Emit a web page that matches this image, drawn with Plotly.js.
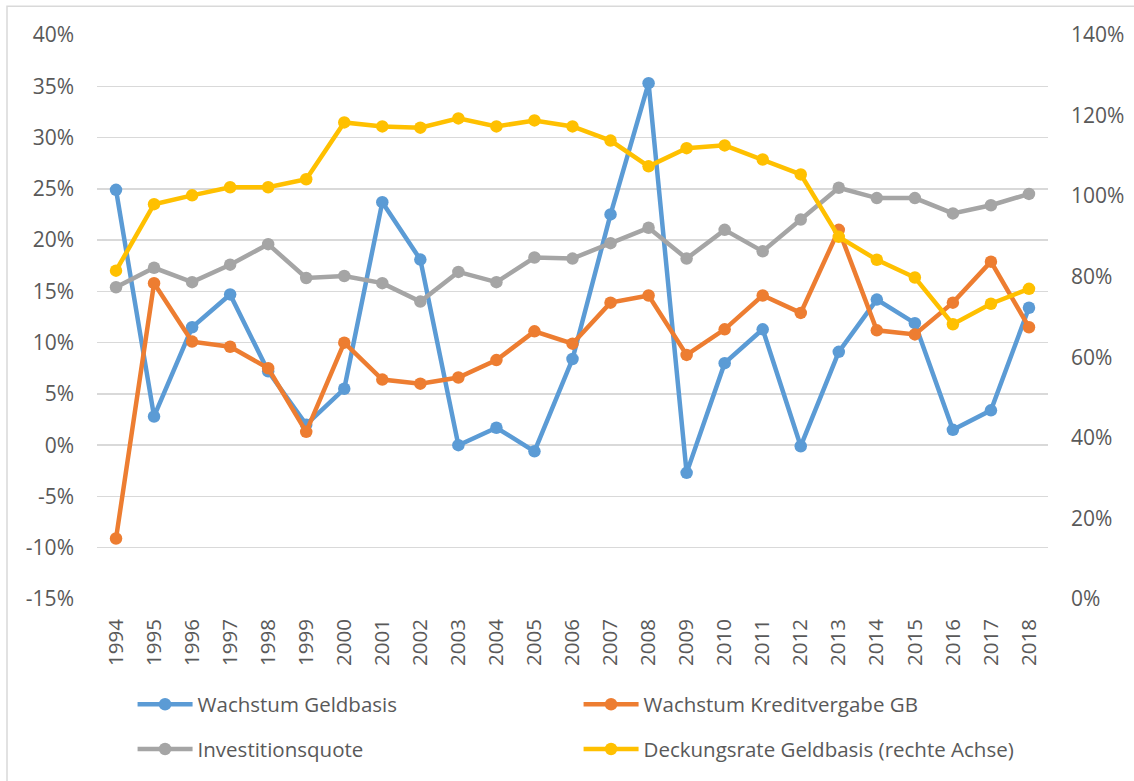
<!DOCTYPE html>
<html><head><meta charset="utf-8">
<script src="https://cdn.plot.ly/plotly-3.0.1.min.js"></script>
<style>html,body{margin:0;padding:0;background:#fff}#chart{width:1134px;height:781px}</style>
</head><body><div id="chart"></div>
<script>
const years = ['1994','1995','1996','1997','1998','1999','2000','2001','2002','2003','2004','2005','2006','2007','2008','2009','2010','2011','2012','2013','2014','2015','2016','2017','2018'];
const wachstumGeldbasis = [24.9,2.8,11.5,14.7,7.2,2.0,5.5,23.7,18.1,0.0,1.7,-0.6,8.4,22.5,35.3,-2.7,8.0,11.3,-0.1,9.1,14.2,11.9,1.5,3.4,13.4];
const wachstumKredit = [-9.1,15.8,10.1,9.6,7.5,1.3,10.0,6.4,6.0,6.6,8.3,11.1,9.9,13.9,14.6,8.8,11.3,14.6,12.9,21.0,11.2,10.8,13.9,17.9,11.5];
const investitionsquote = [15.4,17.3,15.9,17.6,19.6,16.3,16.5,15.8,14.0,16.9,15.9,18.3,18.2,19.7,21.2,18.2,21.0,18.9,22.0,25.1,24.1,24.1,22.6,23.4,24.5];
const deckungsrate = [81.5,98.0,100.2,102.2,102.2,104.2,118.3,117.3,117.0,119.3,117.3,118.8,117.3,113.8,107.4,111.9,112.6,109.1,105.4,89.9,84.2,79.8,68.2,73.3,77.0];
const seriesNames = ['Wachstum Geldbasis','Wachstum Kreditvergabe GB','Investitionsquote','Deckungsrate Geldbasis (rechte Achse)'];
const colors = ['#5B9BD5','#ED7D31','#A5A5A5','#FFC000'];
const leftTickVals = [-15,-10,-5,0,5,10,15,20,25,30,35,40];
const leftTickText = ['-15%','-10%','-5%','0%','5%','10%','15%','20%','25%','30%','35%','40%'];
const rightTickVals = [0,20,40,60,80,100,120,140];
const rightTickText = ['0%','20%','40%','60%','80%','100%','120%','140%'];

const FONT = '"Open Sans", "Liberation Sans", sans-serif';
function tr(y, i, axis, leg){
  return {x: years, y: y, name: seriesNames[i], type:'scatter', mode:'lines+markers',
    yaxis: axis, legend: leg,
    line:{color:colors[i], width:4.5}, marker:{color:colors[i], size:12.5}};
}
const data = [
  tr(wachstumGeldbasis,0,'y','legend'),
  tr(wachstumKredit,1,'y','legend'),
  tr(investitionsquote,2,'y','legend2'),
  tr(deckungsrate,3,'y2','legend2')
];
const legendCommon = {orientation:'h', xanchor:'left', yanchor:'middle', x:0.0374,
  entrywidth:376, entrywidthmode:'pixels', font:{family:FONT, size:20.5, color:'#595959'},
  bgcolor:'rgba(0,0,0,0)', itemwidth:55};
const layout = {
  width:1134, height:781, margin:{l:97, r:86, t:35, b:179},
  paper_bgcolor:'#fff', plot_bgcolor:'#fff',
  font:{family:FONT, color:'#595959', size:20},
  xaxis:{type:'category', range:[-0.5,24.5], tickangle:-90, showgrid:false, zeroline:false, showline:false, ticks:'',
    tickfont:{size:20.5, color:'#595959'}, ticklabelstandoff:15},
  yaxis:{range:[-15,40], tickvals:leftTickVals, ticktext:leftTickText, showgrid:true, gridcolor:'#D9D9D9', gridwidth:1.5,
    zeroline:false, showline:false, ticks:'', tickfont:{size:21, color:'#595959'}, ticklabelstandoff:22},
  yaxis2:{range:[0,140], tickvals:rightTickVals, ticktext:rightTickText, overlaying:'y', side:'right', showgrid:false,
    zeroline:false, showline:false, ticks:'', tickfont:{size:21, color:'#595959'}, ticklabelstandoff:22},
  showlegend:true,
  legend:Object.assign({}, legendCommon, {y:(602-708)/567}),
  legend2:Object.assign({}, legendCommon, {y:(602-753)/567}),
  shapes:[{type:'rect', xref:'paper', yref:'paper', x0:(7-97)/951, x1:(1140-97)/951, y0:(602-790)/567, y1:(602-6)/567,
    line:{color:'#D9D9D9', width:1.5}, fillcolor:'rgba(0,0,0,0)', layer:'below'}]
};
Plotly.newPlot('chart', data, layout, {displayModeBar:false, staticPlot:true});
</script></body></html>
